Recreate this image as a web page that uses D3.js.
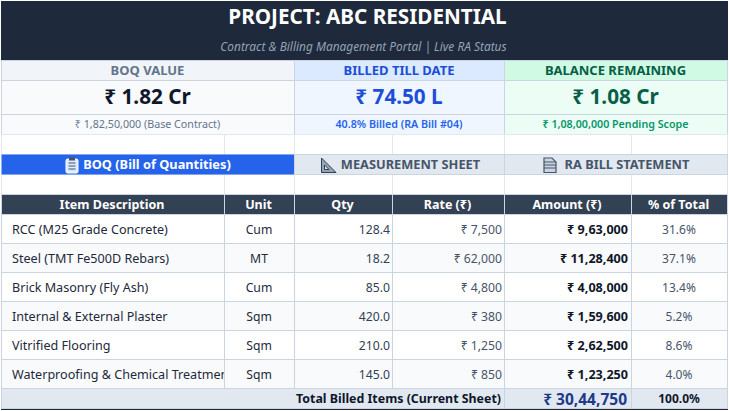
<!DOCTYPE html>
<html>
<head>
<meta charset="utf-8">
<script src="https://cdn.jsdelivr.net/npm/d3@7"></script>
<style>
  html, body { margin: 0; padding: 0; background: #fff; }
  svg { display: block; font-family: "Noto Sans", "Open Sans", sans-serif; }
</style>
</head>
<body>
<div id="sheet"></div>
<script>
// text and values
var title = "PROJECT: ABC RESIDENTIAL";
var subtitle = "Contract & Billing Management Portal | Live RA Status";

var kpiLabels = ["BOQ VALUE", "BILLED TILL DATE", "BALANCE REMAINING"];
var kpiValues = ["₹ 1.82 Cr", "₹ 74.50 L", "₹ 1.08 Cr"];
var kpiNotes = ["₹ 1,82,50,000 (Base Contract)", "40.8% Billed (RA Bill #04)", "₹ 1,08,00,000 Pending Scope"];

var tabs = ["BOQ (Bill of Quantities)", "MEASUREMENT SHEET", "RA BILL STATEMENT"];

var columns = ["Item Description", "Unit", "Qty", "Rate (₹)", "Amount (₹)", "% of Total"];
var items = ["RCC (M25 Grade Concrete)", "Steel (TMT Fe500D Rebars)", "Brick Masonry (Fly Ash)",
  "Internal & External Plaster", "Vitrified Flooring", "Waterproofing & Chemical Treatment"];
var units = ["Cum", "MT", "Cum", "Sqm", "Sqm", "Sqm"];
var qty = ["128.4", "18.2", "85.0", "420.0", "210.0", "145.0"];
var rates = ["₹ 7,500", "₹ 62,000", "₹ 4,800", "₹ 380", "₹ 1,250", "₹ 850"];
var amounts = ["₹ 9,63,000", "₹ 11,28,400", "₹ 4,08,000", "₹ 1,59,600", "₹ 2,62,500", "₹ 1,23,250"];
var shares = ["31.6%", "37.1%", "13.4%", "5.2%", "8.6%", "4.0%"];

var totalLabel = "Total Billed Items (Current Sheet)";
var totalAmount = "₹ 30,44,750";
var totalShare = "100.0%";

// sheet grid
var width = 729, height = 411;
var colEdge = [1, 224, 294, 392, 504, 631, 727];
var kpiEdge = [1, 294, 504, 727];
var grid = "#cbd5e1";

var svg = d3.select("#sheet").append("svg")
  .attr("width", width)
  .attr("height", height);

// scale for the six item rows
var rowY = d3.scaleBand().domain(items).range([215, 389]);

function cell(x0, x1, y0, y1, fill, stroke) {
  svg.append("rect")
    .attr("x", x0).attr("y", y0)
    .attr("width", x1 - x0).attr("height", y1 - y0)
    .attr("fill", fill)
    .attr("stroke", stroke || "none");
}

function label(str, x, y, size, weight, color, anchor, style) {
  return svg.append("text")
    .attr("x", x).attr("y", y)
    .attr("text-anchor", anchor || "middle")
    .attr("font-size", size)
    .attr("font-weight", weight)
    .attr("font-style", style || "normal")
    .attr("fill", color)
    .text(str);
}

// title band
cell(1, 728, 1, 60, "#1e293b");
label(title, 367.5, 24, 20.7, 700, "#ffffff");
label(subtitle, 363.5, 51, 11.9, 400, "#94a3b8", "middle", "italic");

// kpi cards
var kpiHead = ["#f1f5f9", "#dbeafe", "#d1fae5"];
var kpiBody = ["#f8fafc", "#eff6ff", "#ecfdf5"];
var kpiHeadText = ["#64748b", "#1d4ed8", "#065f46"];
var kpiValueText = ["#0f172a", "#1d4ed8", "#065f46"];
var kpiNoteText = ["#64748b", "#2563eb", "#059669"];

kpiLabels.forEach(function (d, i) {
  var x0 = kpiEdge[i], x1 = kpiEdge[i + 1], mid = (x0 + x1) / 2;
  cell(x0 + 0.5, x1 + 0.5, 60.5, 80.5, kpiHead[i], grid);
  cell(x0 + 0.5, x1 + 0.5, 80.5, 114.5, kpiBody[i], grid);
  cell(x0 + 0.5, x1 + 0.5, 114.5, 134.5, kpiBody[i], grid);
  label(d, mid, 75, 13, 700, kpiHeadText[i]);
  label(kpiValues[i], mid, 104, 20.7, 700, kpiValueText[i]);
  label(kpiNotes[i], mid, 128, 10.7, i == 0 ? 400 : 600, kpiNoteText[i]);
});

// empty spreadsheet rows above and below the tabs
[[134.5, 154.5], [174.5, 194.5]].forEach(function (r) {
  colEdge.slice(0, 6).forEach(function (x, i) {
    cell(x + 0.5, colEdge[i + 1] + 0.5, r[0], r[1], "#ffffff", "#e2e8f0");
  });
});

// tabs
var tabFill = ["#2563eb", "#e2e8f0", "#e2e8f0"];
var tabText = ["#ffffff", "#475569", "#475569"];
var tabX = [157, 410.5, 627];
tabs.forEach(function (d, i) {
  cell(kpiEdge[i] + 0.5, kpiEdge[i + 1] + 0.5, 154.5, 174.5, tabFill[i], i == 0 ? "none" : grid);
  label(d, tabX[i], 169, 12.8, 700, tabText[i]);
});

// clipboard icon
var clip = svg.append("g").attr("transform", "translate(65,157)");
clip.append("rect").attr("x", 1).attr("y", 2).attr("width", 12).attr("height", 14).attr("rx", 1.5)
  .attr("fill", "#dbeafe").attr("stroke", "#ffffff");
clip.append("rect").attr("x", 4).attr("y", 0.5).attr("width", 6).attr("height", 3).attr("fill", "#475569");
[6, 9, 12].forEach(function (y) {
  clip.append("line").attr("x1", 3.5).attr("x2", 10.5).attr("y1", y).attr("y2", y)
    .attr("stroke", "#475569").attr("stroke-width", 1);
});

// set square icon
var square = svg.append("g").attr("transform", "translate(321,157)");
square.append("path").attr("d", "M0.5,1 L0.5,15.5 L15,15.5 Z M3.5,8 L3.5,12.5 L8,12.5 Z")
  .attr("fill", "#94a3b8").attr("fill-rule", "evenodd").attr("stroke", "#334155").attr("stroke-width", 1);

// page icon
var page = svg.append("g").attr("transform", "translate(543,157)");
page.append("path").attr("d", "M1,1 L9,1 L13,5 L13,15.5 L1,15.5 Z")
  .attr("fill", "#cbd5e1").attr("stroke", "#475569").attr("stroke-width", 1.2);
[5, 8, 11].forEach(function (y) {
  page.append("line").attr("x1", 1).attr("x2", 13).attr("y1", y).attr("y2", y)
    .attr("stroke", "#475569").attr("stroke-width", 1);
});

// table header
columns.forEach(function (d, i) {
  var x0 = colEdge[i], x1 = colEdge[i + 1];
  cell(x0 + 0.5, x1 + 0.5, 194.5, 214.5, "#334155", grid);
  label(d, (x0 + x1) / 2 - 0.5, 209, 12.5, 700, "#ffffff");
});

// clip for the long description that runs into the unit column
svg.append("clipPath").attr("id", "descClip").append("rect")
  .attr("x", colEdge[0]).attr("y", 215).attr("width", colEdge[1] - colEdge[0]).attr("height", 174);

// item rows
var rows = svg.selectAll("g.row").data(items).enter().append("g")
  .attr("class", "row");

colEdge.slice(0, 6).forEach(function (x, c) {
  rows.append("rect")
    .attr("x", x + 0.5)
    .attr("y", function (d) { return rowY(d) - 0.5; })
    .attr("width", colEdge[c + 1] - x)
    .attr("height", rowY.bandwidth())
    .attr("fill", function (d, i) { return i % 2 ? "#f8fafc" : "#ffffff"; })
    .attr("stroke", grid);
});

function rowText(values, x, anchor, size, weight, color, clipped) {
  var t = rows.append("text")
    .attr("x", x)
    .attr("y", function (d) { return rowY(d) + 19; })
    .attr("text-anchor", anchor)
    .attr("font-size", size)
    .attr("font-weight", weight)
    .attr("fill", color)
    .text(function (d, i) { return values[i]; });
  if (clipped) t.attr("clip-path", "url(#descClip)");
}

rowText(items, 12, "start", 12.6, 400, "#1e293b", true);
rowText(units, 259, "middle", 12.2, 400, "#1e293b");
rowText(qty, 390, "end", 12.2, 400, "#334155");
rowText(rates, 502, "end", 12.2, 400, "#475569");
rowText(amounts, 628, "end", 12.6, 700, "#0f172a");
rowText(shares, 679, "middle", 12, 400, "#475569");

// total row
cell(1.5, 504.5, 388.5, 408.5, "#e2e8f0", grid);
cell(504.5, 631.5, 388.5, 408.5, "#e2e8f0", grid);
cell(631.5, 727.5, 388.5, 408.5, "#e2e8f0", grid);
label(totalLabel, 501, 403, 12.4, 700, "#0f172a", "end");
label(totalAmount, 627, 405, 15.5, 700, "#1e3a8a", "end");
label(totalShare, 679, 403, 12, 700, "#0f172a");
svg.append("line").attr("x1", 1).attr("x2", 728).attr("y1", 409.5).attr("y2", 409.5)
  .attr("stroke", "#1e293b").attr("stroke-width", 1);
</script>
</body>
</html>
